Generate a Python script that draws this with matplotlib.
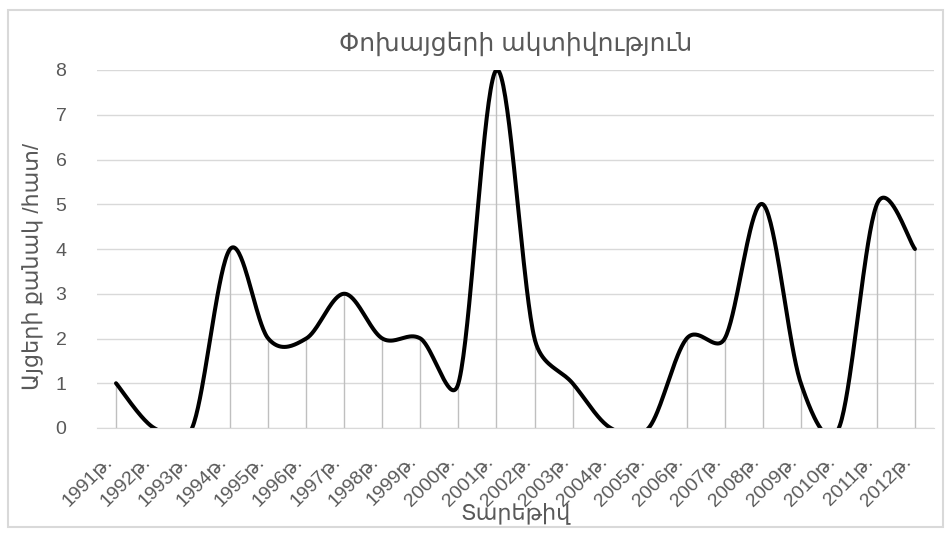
import numpy as np
import matplotlib
matplotlib.use('Agg')
import matplotlib.pyplot as plt
from matplotlib.patches import Rectangle

years = [f'{y}թ.' for y in range(1991, 2013)]
visits = [1, 0, 0, 4, 2, 2, 3, 2, 2, 1, 8, 2, 1, 0, 0, 2, 2, 5, 1, 0, 5, 4]

title = 'Փոխայցերի ակտիվություն'
ylabel = 'Այցերի քանակ /հատ/'
xlabel = 'Տարեթիվ'

plt.rcParams['font.family'] = ['Liberation Sans', 'DejaVu Sans']
text_color = '#595959'


def smooth(pts, steps=40):
    # bezier segments like a spreadsheet's smoothed line, worked out in pixels;
    # each handle is kept to at most half of its segment
    pts = np.asarray(pts, dtype=float)
    n = len(pts)
    tang = np.array([(pts[min(i + 1, n - 1)] - pts[max(i - 1, 0)]) / 6 for i in range(n)])
    out = []
    t = np.linspace(0, 1, steps)[:, None]
    for i in range(n - 1):
        p0, p3 = pts[i], pts[i + 1]
        half = np.hypot(*(p3 - p0)) / 2
        h1, h2 = tang[i], tang[i + 1]
        l1, l2 = np.hypot(*h1), np.hypot(*h2)
        if l1 > half:
            h1 = h1 * half / l1
        if l2 > half:
            h2 = h2 * half / l2
        p1, p2 = p0 + h1, p3 - h2
        seg = (1 - t) ** 3 * p0 + 3 * (1 - t) ** 2 * t * p1 + 3 * (1 - t) * t ** 2 * p2 + t ** 3 * p3
        out.append(seg)
    return np.vstack(out)


fig = plt.figure(figsize=(9.49, 5.35), dpi=100)
fig.patches.append(Rectangle((8 / 949, 8 / 535), 935 / 949, 517 / 535, transform=fig.transFigure,
                             facecolor='none', edgecolor='#d9d9d9', linewidth=1.5))
ax = fig.add_axes([97 / 949, 107 / 535, 837 / 949, 358 / 535])

x = np.arange(len(years))
ax.set_xlim(-0.5, len(years) - 0.5)
ax.set_ylim(0, 8)

ax.vlines(x, 0, visits, color='#bfbfbf', linewidth=1)
pix = ax.transData.transform(np.column_stack([x, visits]))
curve = ax.transData.inverted().transform(smooth(pix))
ax.plot(curve[:, 0], curve[:, 1], color='black', linewidth=2.9, solid_capstyle='round')

ax.set_yticks(range(0, 9))
ax.grid(axis='y', color='#d9d9d9', linewidth=1)
ax.set_axisbelow(True)
for s in ['top', 'right', 'left']:
    ax.spines[s].set_visible(False)
ax.spines['bottom'].set_color('#d9d9d9')
ax.tick_params(length=0, colors=text_color, labelsize=14)
ax.tick_params(axis='y', pad=22)
ax.tick_params(axis='x', pad=18)

ax.set_xticks(x)
ax.set_xticklabels(years, rotation=45, ha='right', va='top', fontsize=14)

ax.set_title(title, color=text_color, fontsize=18, pad=14)
ax.set_ylabel(ylabel, color=text_color, fontsize=16)
ax.yaxis.set_label_coords(-0.064, 0.45)
ax.set_xlabel(xlabel, color=text_color, fontsize=16, va='center')
ax.xaxis.set_label_coords(0.5, -0.237)

fig.savefig('out.png', dpi=100)
